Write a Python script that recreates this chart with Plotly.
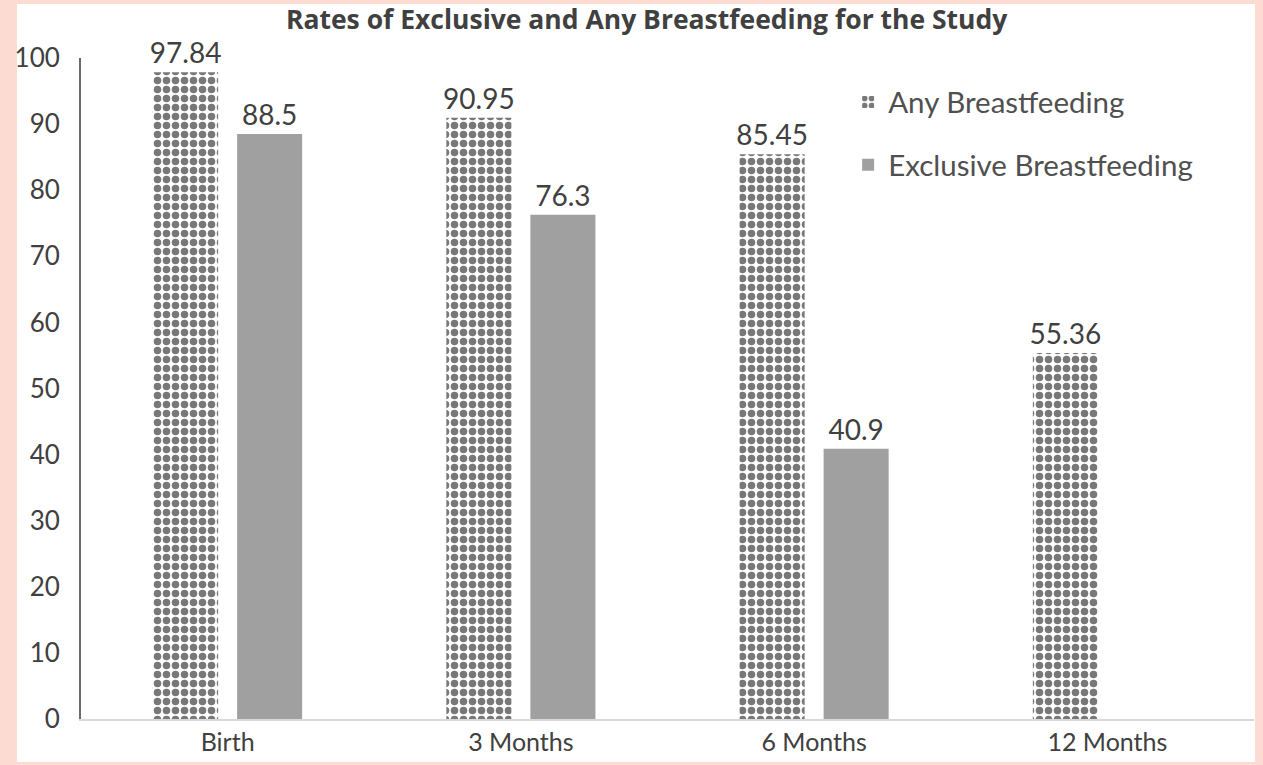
import plotly.graph_objects as go

# Study time points and breastfeeding rates (%)
categories = ["Birth", "3 Months", "6 Months", "12 Months"]
any_bf = [97.84, 90.95, 85.45, 55.36]
exclusive_bf = [88.5, 76.3, 40.9, None]
y_ticks = [0, 10, 20, 30, 40, 50, 60, 70, 80, 90, 100]

FONT = "Lato"
TEXT = "#404040"
PINK = "#fcdcd2"

fig = go.Figure()

fig.add_trace(go.Bar(
    name="Any Breastfeeding",
    x=categories,
    y=any_bf,
    text=[f"{v:g}" for v in any_bf],
    textposition="outside",
    constraintext="none",
    textfont=dict(family=FONT, size=28, color=TEXT),
    cliponaxis=False,
    marker=dict(
        color="white",
        line=dict(width=0),
        pattern=dict(shape=".", fgcolor="#787878", bgcolor="white",
                     size=9, solidity=0.55, fillmode="replace"),
    ),
    showlegend=True,
    legend="legend",
))

fig.add_trace(go.Bar(
    name="Exclusive Breastfeeding",
    x=categories,
    y=exclusive_bf,
    text=[f"{v:g}" if v is not None else "" for v in exclusive_bf],
    textposition="outside",
    constraintext="none",
    textfont=dict(family=FONT, size=28, color=TEXT),
    cliponaxis=False,
    marker=dict(color="#a0a0a0", line=dict(width=0)),
    showlegend=True,
    legend="legend2",
))

# white panel inside the pink frame
fig.add_shape(type="rect", xref="paper", yref="paper",
              x0=-0.0546, x1=1.0009, y0=-0.065, y1=1.0817,
              fillcolor="white", line=dict(width=0), layer="below")

legend_style = dict(font=dict(family=FONT, size=29.5, color="#505050"),
                    bgcolor="rgba(0,0,0,0)", xanchor="left", yanchor="middle",
                    itemwidth=30)

fig.update_layout(
    width=1263, height=765,
    margin=dict(l=81, r=9, t=58, b=46),
    paper_bgcolor=PINK,
    plot_bgcolor="white",
    barmode="group",
    bargap=0.427,
    bargroupgap=0.226,
    title=dict(text="<b>Rates of Exclusive and Any Breastfeeding for the Study</b>",
               x=0.512, xref="container", xanchor="center",
               y=0.974, yanchor="middle",
               font=dict(family="Open Sans", size=26.5, color=TEXT)),
    legend=dict(x=0.654, y=0.933, **legend_style),
    legend2=dict(x=0.654, y=0.838, **legend_style),
    xaxis=dict(
        showgrid=False,
        showline=True, linecolor="#d9d9d9", linewidth=2,
        ticks="",
        tickfont=dict(family=FONT, size=25, color=TEXT),
    ),
    yaxis=dict(
        range=[0, 100],
        tickvals=y_ticks,
        showgrid=False,
        zeroline=False,
        showline=True, linecolor="#6b6b6b", linewidth=2,
        ticks="",
        ticklabelstandoff=14,
        tickfont=dict(family=FONT, size=26, color=TEXT),
    ),
)

fig.write_html("out.html")
